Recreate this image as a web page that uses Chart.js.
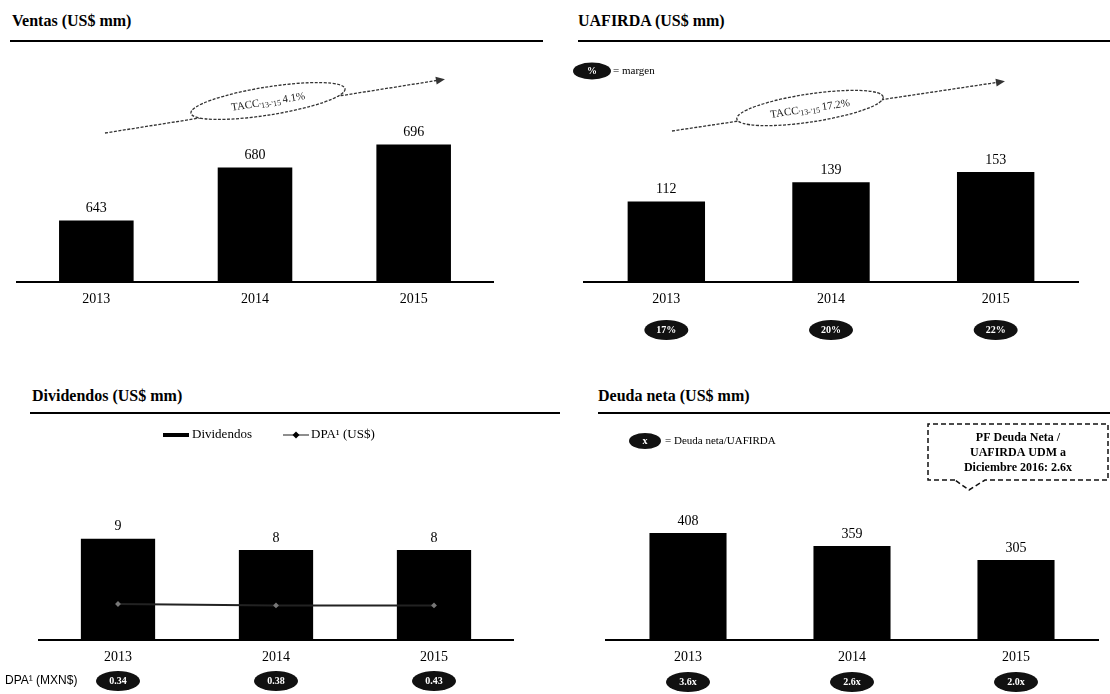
<!DOCTYPE html>
<html>
<head>
<meta charset="utf-8">
<script src="https://cdn.jsdelivr.net/npm/chart.js@4.4.1/dist/chart.umd.min.js"></script>
<style>
  body { margin: 0; width: 1110px; height: 694px; background: #fff; position: relative; overflow: hidden;
         font-family: 'Liberation Serif', 'Times New Roman', serif; }
  .title { position: absolute; font-weight: bold; font-size: 16px; color: #000; }
  .rule { position: absolute; height: 2px; background: #000; }
  canvas { position: absolute; }
</style>
</head>
<body>
<div class="title" style="left:12px;top:12px">Ventas (US$ mm)</div>
<div class="rule" style="left:10px;top:40px;width:533px"></div>
<div class="title" style="left:578px;top:12px">UAFIRDA (US$ mm)</div>
<div class="rule" style="left:578px;top:40px;width:532px"></div>
<div class="title" style="left:32px;top:387px">Dividendos (US$ mm)</div>
<div class="rule" style="left:30px;top:412px;width:530px"></div>
<div class="title" style="left:598px;top:387px">Deuda neta (US$ mm)</div>
<div class="rule" style="left:598px;top:412px;width:512px"></div>

<canvas id="ventas" width="560" height="300" style="left:0;top:50px"></canvas>
<canvas id="uafirda" width="540" height="300" style="left:570px;top:50px"></canvas>
<canvas id="dividendos" width="560" height="274" style="left:0;top:420px"></canvas>
<canvas id="deuda" width="540" height="274" style="left:570px;top:420px"></canvas>

<script>
const years = ['2013', '2014', '2015'];
const ventas = [643, 680, 696];
const uafirda = [112, 139, 153];
const margenUafirda = ['17%', '20%', '22%'];
const dividendos = [9, 8, 8];
const dpaUsd = [0.026, 0.025, 0.025];
const dpaMxn = ['0.34', '0.38', '0.43'];
const deudaNeta = [408, 359, 305];
const deudaSobreUafirda = ['3.6x', '2.6x', '2.0x'];
const taccVentas = '4.1%';
const taccUafirda = '17.2%';

const SERIF = "'Liberation Serif', 'Times New Roman', serif";
Chart.defaults.font.family = SERIF;
Chart.defaults.color = '#000';
Chart.defaults.animation = false;

function badge(ctx, x, y, text, w, h) {
  ctx.save();
  ctx.fillStyle = '#111';
  ctx.beginPath();
  ctx.ellipse(x, y, w / 2, h / 2, 0, 0, Math.PI * 2);
  ctx.fill();
  ctx.fillStyle = '#fff';
  ctx.font = 'bold 10px ' + SERIF;
  ctx.textAlign = 'center';
  ctx.textBaseline = 'middle';
  ctx.fillText(text, x, y + 0.5);
  ctx.restore();
}

// numbers above the bars
const valueLabels = {
  id: 'valueLabels',
  afterDatasetsDraw(chart) {
    const ctx = chart.ctx;
    const ds = chart.data.datasets[0];
    ctx.save();
    ctx.font = '14px ' + SERIF;
    ctx.textAlign = 'center';
    ctx.textBaseline = 'bottom';
    ctx.fillStyle = '#000';
    chart.getDatasetMeta(0).data.forEach((bar, i) => ctx.fillText(ds.data[i], bar.x, bar.y - 5));
    ctx.restore();
  }
};

// ovals under the years
function badgeRow(texts, y) {
  return {
    id: 'badgeRow',
    afterDraw(chart) {
      const xs = chart.scales.x;
      texts.forEach((t, i) => badge(chart.ctx, xs.getPixelForValue(i), y, t, 44, 20));
    }
  };
}

// dashed growth arrow with the TACC oval
function taccArrow(x0, y0, x1, y1, ex, ey, rx, ry, value) {
  return {
    id: 'taccArrow',
    afterDraw(chart) {
      const ctx = chart.ctx;
      const ang = Math.atan2(y1 - y0, x1 - x0);
      ctx.save();
      ctx.strokeStyle = '#333';
      ctx.fillStyle = '#333';
      ctx.lineWidth = 1.3;
      ctx.setLineDash([3, 1.5]);
      ctx.beginPath();
      ctx.moveTo(x0, y0);
      ctx.lineTo(x1, y1);
      ctx.stroke();
      ctx.setLineDash([]);
      ctx.beginPath();
      ctx.moveTo(x1 + 5 * Math.cos(ang), y1 + 5 * Math.sin(ang));
      ctx.lineTo(x1 - 4 * Math.cos(ang) - 4 * Math.sin(ang), y1 - 4 * Math.sin(ang) + 4 * Math.cos(ang));
      ctx.lineTo(x1 - 4 * Math.cos(ang) + 4 * Math.sin(ang), y1 - 4 * Math.sin(ang) - 4 * Math.cos(ang));
      ctx.closePath();
      ctx.fill();
      ctx.beginPath();
      ctx.ellipse(ex, ey, rx, ry, ang, 0, Math.PI * 2);
      ctx.fillStyle = '#fff';
      ctx.fill();
      ctx.setLineDash([3, 1.5]);
      ctx.stroke();
      ctx.setLineDash([]);
      ctx.translate(ex, ey);
      ctx.rotate(ang);
      ctx.fillStyle = '#222';
      ctx.textBaseline = 'alphabetic';
      ctx.font = '11px ' + SERIF;
      const w1 = ctx.measureText('TACC').width;
      ctx.font = '8px ' + SERIF;
      const w2 = ctx.measureText("'13-'15 ").width;
      ctx.font = '11px ' + SERIF;
      const w3 = ctx.measureText(value).width;
      const x = -(w1 + w2 + w3) / 2;
      ctx.fillText('TACC', x, 4);
      ctx.font = '8px ' + SERIF;
      ctx.fillText("'13-'15 ", x + w1, 6);
      ctx.font = '11px ' + SERIF;
      ctx.fillText(value, x + w1 + w2, 4);
      ctx.restore();
    }
  };
}

function xScale() {
  return {
    grid: { display: false, drawTicks: false },
    border: { display: true, color: '#000', width: 2 },
    ticks: { color: '#000', font: { size: 14 }, padding: 9 },
    afterFit(s) { s.height = 30; }
  };
}

function barSet(data) {
  return {
    type: 'bar',
    data: data,
    backgroundColor: '#000',
    barPercentage: 0.47,
    categoryPercentage: 1,
    order: 1
  };
}

const baseOpts = (pad, yMin, yMax) => ({
  responsive: false,
  layout: { padding: pad },
  plugins: { legend: { display: false }, tooltip: { enabled: false } },
  scales: {
    x: xScale(),
    y: { display: false, min: yMin, max: yMax }
  }
});

// Ventas
new Chart(document.getElementById('ventas'), {
  type: 'bar',
  data: { labels: years, datasets: [barSet(ventas)] },
  options: baseOpts({ left: 17, right: 67, top: 10, bottom: 38 }, 600, 755),
  plugins: [valueLabels, taccArrow(105, 83, 440, 30, 268, 51, 78, 14, taccVentas)]
});

// UAFIRDA
const margenLegend = {
  id: 'margenLegend',
  afterDraw(chart) {
    const ctx = chart.ctx;
    badge(ctx, 22, 21, '%', 38, 17);
    ctx.save();
    ctx.font = '11px ' + SERIF;
    ctx.textBaseline = 'middle';
    ctx.fillStyle = '#000';
    ctx.fillText('= margen', 43, 21);
    ctx.restore();
  }
};
new Chart(document.getElementById('uafirda'), {
  type: 'bar',
  data: { labels: years, datasets: [barSet(uafirda)] },
  options: baseOpts({ left: 14, right: 32, top: 10, bottom: 38 }, 0, 309),
  plugins: [valueLabels, margenLegend, badgeRow(margenUafirda, 280),
            taccArrow(102, 81, 430, 32, 240, 58, 74, 14, taccUafirda)]
});

// Dividendos
const divLegend = {
  id: 'divLegend',
  afterDraw(chart) {
    const ctx = chart.ctx;
    ctx.save();
    ctx.fillStyle = '#000';
    ctx.fillRect(163, 13, 26, 4);
    ctx.font = '13px ' + SERIF;
    ctx.textBaseline = 'middle';
    ctx.fillText('Dividendos', 192, 15);
    ctx.strokeStyle = '#444';
    ctx.lineWidth = 1.2;
    ctx.beginPath();
    ctx.moveTo(283, 15);
    ctx.lineTo(309, 15);
    ctx.stroke();
    ctx.beginPath();
    ctx.moveTo(296, 11.5); ctx.lineTo(299.5, 15); ctx.lineTo(296, 18.5); ctx.lineTo(292.5, 15);
    ctx.closePath();
    ctx.fill();
    ctx.fillText('DPA¹ (US$)', 311, 15);
    ctx.font = "12px 'Liberation Sans', Arial, sans-serif";
    ctx.fillText('DPA¹ (MXN$)', 5, 261);
    ctx.restore();
  }
};
const divOpts = baseOpts({ left: 39, right: 47, top: 40, bottom: 24 }, 0, 16);
divOpts.scales.y2 = { display: false, min: 0, max: 0.13 };
new Chart(document.getElementById('dividendos'), {
  type: 'bar',
  data: {
    labels: years,
    datasets: [
      barSet(dividendos),
      {
        type: 'line',
        label: 'DPA (US$)',
        data: dpaUsd,
        yAxisID: 'y2',
        borderColor: '#222',
        borderWidth: 2,
        pointStyle: 'rectRot',
        pointRadius: 1.5,
        pointBackgroundColor: '#777',
        pointBorderColor: '#777',
        order: 0
      }
    ]
  },
  options: divOpts,
  plugins: [valueLabels, divLegend, badgeRow(dpaMxn, 261)]
});

// Deuda neta
const deudaNotes = {
  id: 'deudaNotes',
  afterDraw(chart) {
    const ctx = chart.ctx;
    badge(ctx, 75, 21, 'x', 32, 16);
    ctx.save();
    ctx.font = '11px ' + SERIF;
    ctx.textBaseline = 'middle';
    ctx.fillStyle = '#000';
    ctx.fillText('= Deuda neta/UAFIRDA', 95, 21);
    // dashed callout
    ctx.strokeStyle = '#111';
    ctx.lineWidth = 1.5;
    ctx.setLineDash([5, 3]);
    ctx.beginPath();
    ctx.moveTo(385, 60);
    ctx.lineTo(358, 60);
    ctx.lineTo(358, 4);
    ctx.lineTo(538, 4);
    ctx.lineTo(538, 60);
    ctx.lineTo(415, 60);
    ctx.lineTo(399, 70);
    ctx.lineTo(385, 60);
    ctx.stroke();
    ctx.setLineDash([]);
    ctx.font = 'bold 12px ' + SERIF;
    ctx.textAlign = 'center';
    ctx.fillText('PF Deuda Neta /', 448, 18);
    ctx.fillText('UAFIRDA UDM a', 448, 33);
    ctx.fillText('Diciembre 2016: 2.6x', 448, 48);
    ctx.restore();
  }
};
new Chart(document.getElementById('deuda'), {
  type: 'bar',
  data: { labels: years, datasets: [barSet(deudaNeta)] },
  options: baseOpts({ left: 36, right: 12, top: 40, bottom: 24 }, 0, 687),
  plugins: [valueLabels, deudaNotes, badgeRow(deudaSobreUafirda, 262)]
});
</script>
</body>
</html>
